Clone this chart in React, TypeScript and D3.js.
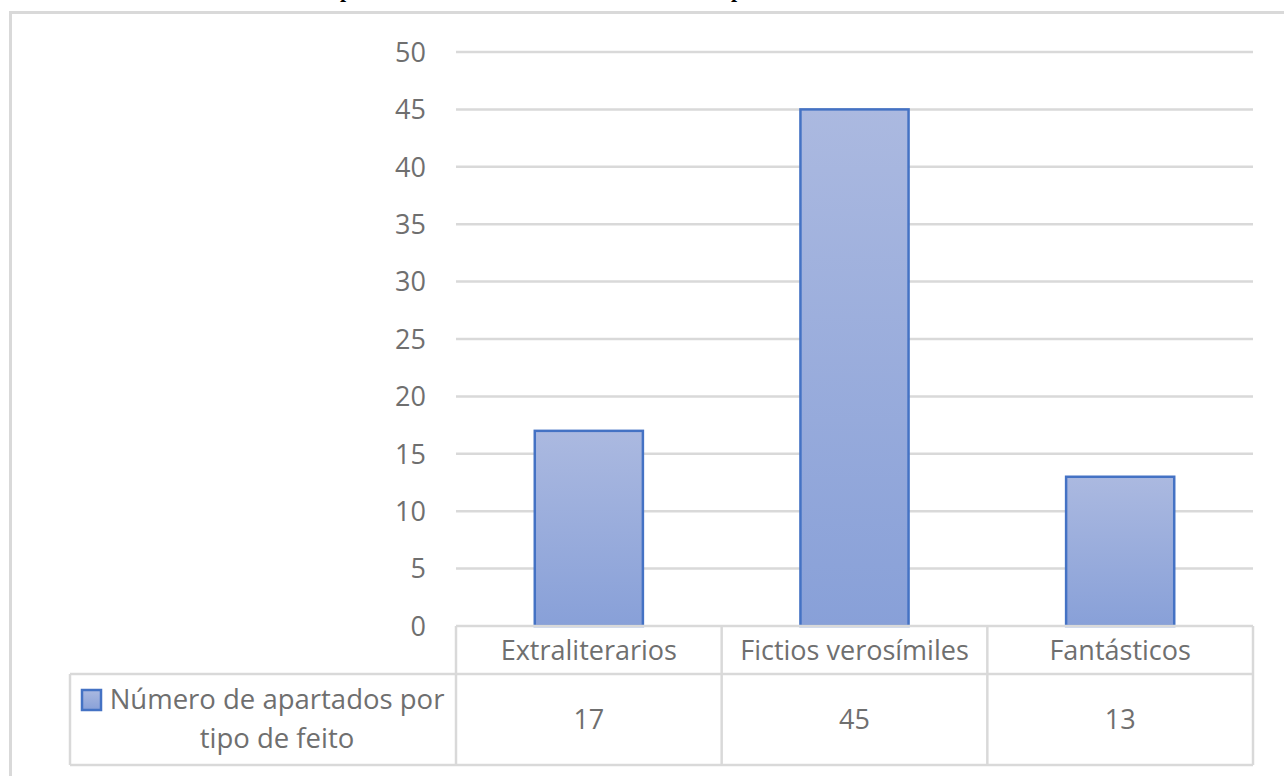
import React from "react";
import * as d3 from "d3";

const categories = ["Extraliterarios", "Fictios verosímiles", "Fantásticos"];
const values = [17, 45, 13];
const yTicks = [0, 5, 10, 15, 20, 25, 30, 35, 40, 45, 50];
const seriesName = ["Número de apartados por", "tipo de feito"];

const W = 1284;
const H = 776;
const plotLeft = 456;
const plotRight = 1253;
const plotTop = 52;
const plotBottom = 626;
const headerBottom = 674;
const tableBottom = 765;
const legendLeft = 70;

const grid = "#d9d9d9";
const textColor = "#6f6f6f";
const font = "'Open Sans', sans-serif";

export default function App() {
  const x = d3
    .scaleBand<string>()
    .domain(categories)
    .range([plotLeft, plotRight])
    .paddingInner(0.593)
    .paddingOuter(0.2965);
  const cell = d3.scaleBand<string>().domain(categories).range([plotLeft, plotRight]);
  const y = d3.scaleLinear().domain([0, 50]).range([plotBottom, plotTop]);

  return (
    <svg
      width={W}
      height={H}
      style={{ position: "absolute", left: 0, top: 0, background: "#fff" }}
      fontFamily={font}
    >
      <defs>
        <linearGradient id="barGrad" x1="0" y1="0" x2="0" y2="1">
          <stop offset="0" stopColor="#abb9e0" />
          <stop offset="1" stopColor="#88a0d8" />
        </linearGradient>
      </defs>
      {/* clipped title descenders */}
      <text x={346} y={-3} fontFamily="'Liberation Serif', serif" fontWeight="bold" fontSize={22} fill="#000" textAnchor="middle">p</text>
      <text x={737} y={-3} fontFamily="'Liberation Serif', serif" fontWeight="bold" fontSize={22} fill="#000" textAnchor="middle">p</text>

      {/* outer border */}
      <line x1={10.5} x2={W} y1={12.5} y2={12.5} stroke={grid} strokeWidth={3} />
      <line x1={10.5} x2={10.5} y1={11} y2={H} stroke={grid} strokeWidth={3} />

      {/* gridlines */}
      {yTicks.filter((t) => t > 0).map((t) => (
        <line key={t} x1={plotLeft} x2={plotRight} y1={y(t)} y2={y(t)} stroke={grid} strokeWidth={2.5} />
      ))}
      {/* y labels */}
      {yTicks.map((t) => (
        <text key={t} x={426} y={y(t)} dy="0.36em" textAnchor="end" fontSize={27} fill={textColor}>
          {t}
        </text>
      ))}

      {/* bars */}
      {categories.map((c, i) => (
        <rect
          key={c}
          x={x(c)}
          y={y(values[i])}
          width={x.bandwidth()}
          height={y(0) - y(values[i])}
          fill="url(#barGrad)"
          stroke="#4472c4"
          strokeWidth={2.5}
        />
      ))}

      {/* data table */}
      <g stroke={grid} strokeWidth={2.5} fill="none">
        <line x1={plotLeft} x2={plotRight} y1={plotBottom} y2={plotBottom} />
        <line x1={legendLeft} x2={plotRight} y1={headerBottom} y2={headerBottom} />
        <line x1={legendLeft} x2={plotRight} y1={tableBottom} y2={tableBottom} />
        <line x1={legendLeft} x2={legendLeft} y1={headerBottom} y2={tableBottom} />
        {categories.map((c) => (
          <line key={c} x1={cell(c)} x2={cell(c)} y1={plotBottom} y2={tableBottom} />
        ))}
        <line x1={plotRight} x2={plotRight} y1={plotBottom} y2={tableBottom} />
      </g>
      {categories.map((c, i) => (
        <g key={c}>
          <text
            x={(cell(c) as number) + cell.bandwidth() / 2}
            y={(plotBottom + headerBottom) / 2}
            dy="0.36em"
            textAnchor="middle"
            fontSize={27}
            fill={textColor}
          >
            {c}
          </text>
          <text
            x={(cell(c) as number) + cell.bandwidth() / 2}
            y={(headerBottom + tableBottom) / 2}
            dy="0.36em"
            textAnchor="middle"
            fontSize={27}
            fill={textColor}
          >
            {values[i]}
          </text>
        </g>
      ))}
      {/* legend cell */}
      <rect x={82} y={690} width={19} height={20} fill="url(#barGrad)" stroke="#4472c4" strokeWidth={2.5} />
      <text x={277} y={709} textAnchor="middle" fontSize={27.5} fill={textColor}>
        {seriesName[0]}
      </text>
      <text x={277} y={748} textAnchor="middle" fontSize={27.5} fill={textColor}>
        {seriesName[1]}
      </text>
    </svg>
  );
}
